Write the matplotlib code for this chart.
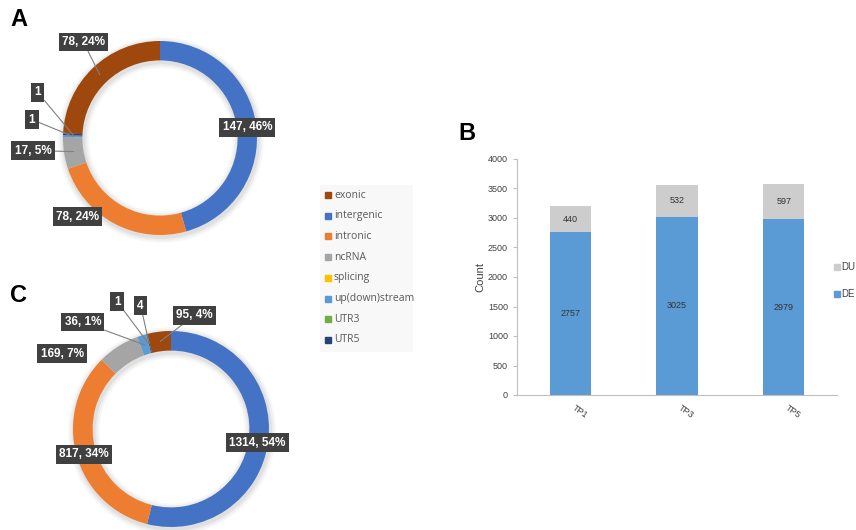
import numpy as np
import matplotlib.pyplot as plt

## genomic annotation categories (same order in both donuts and the legend)
categories = ["exonic", "intergenic", "intronic", "ncRNA", "splicing",
              "up(down)stream", "UTR3", "UTR5"]
colors = ["#9e480e", "#4472c4", "#ed7d31", "#a5a5a5", "#ffc000",
          "#5b9bd5", "#70ad47", "#264478"]

counts_a = [78, 147, 78, 17, 0, 1, 0, 1]
counts_c = [95, 1314, 817, 169, 0, 36, 1, 4]

## stacked bars
timepoints = ["TP1", "TP3", "TP5"]
de_counts = [2757, 3025, 2979]
du_counts = [440, 532, 597]

W, H = 856, 530
fig = plt.figure(figsize=(W / 100, H / 100), dpi=100)
plt.rcParams["font.family"] = ["Liberation Sans", "DejaVu Sans"]


def px_axes(x0, y0, w, h):
    # axes placed in pixel units, measured from the top-left corner
    return fig.add_axes([x0 / W, 1 - (y0 + h) / H, w / W, h / H])


def donut(box, cx, cy, R, counts, label_pos):
    x0, y0, w, h = box
    ax = px_axes(x0, y0, w, h)
    total = sum(counts)
    start = 90 + 360 * counts[0] / total
    # faint halo behind the ring
    for k, a in [(1.06, 0.03), (1.04, 0.04), (1.02, 0.05)]:
        ax.add_patch(plt.matplotlib.patches.Wedge((0.01, -0.02), k, 0, 360,
                                                  width=0.2 + 2 * (k - 1), color="#000000",
                                                  alpha=a, lw=0))
    wedges, _ = ax.pie(counts, colors=colors, radius=1, startangle=start,
                       counterclock=False, wedgeprops=dict(width=0.2, linewidth=0))
    ax.set_xlim((x0 - cx) / R, (x0 + w - cx) / R)
    ax.set_ylim((cy - y0 - h) / R, (cy - y0) / R)
    ax.axis("off")
    for i, (wd, v) in enumerate(zip(wedges, counts)):
        if v == 0:
            continue
        pct = 100 * v / total
        txt = f"{v}, {round(pct)}%" if pct >= 0.5 else f"{v}"
        mid = np.deg2rad((wd.theta1 + wd.theta2) / 2)
        target = (0.9 * np.cos(mid), 0.9 * np.sin(mid))
        tx, ty, leader = label_pos[i]
        ax.annotate(txt, xy=target, xytext=(tx, ty), ha="center", va="center",
                    color="white", fontsize=8.5, fontweight="bold",
                    bbox=dict(boxstyle="square,pad=0.28", fc="#404040", ec="none"),
                    arrowprops=dict(arrowstyle="-", color="#808080", lw=0.8,
                                    shrinkA=0, shrinkB=0) if leader else None)
    return ax


pos_a = {0: (-0.79, 0.99, True), 1: (0.90, 0.11, False), 2: (-0.85, -0.81, False),
         3: (-1.31, -0.13, True), 5: (-1.32, 0.19, True), 7: (-1.26, 0.47, True)}
pos_c = {0: (0.24, 1.16, True), 1: (0.88, -0.14, False), 2: (-0.89, -0.26, False),
         3: (-1.11, 0.77, False), 5: (-0.90, 1.09, True), 6: (-0.55, 1.30, True),
         7: (-0.31, 1.26, True)}

donut((0, 0, 300, 265), 160, 138, 97, counts_a, pos_a)
donut((0, 268, 300, 262), 171, 429, 98, counts_c, pos_c)

## shared legend for the donuts
lax = px_axes(320, 185, 93, 167)
lax.set_xlim(0, 93)
lax.set_ylim(167, 0)
lax.set_xticks([])
lax.set_yticks([])
lax.set_facecolor("#f8f8f8")
for s in lax.spines.values():
    s.set_visible(False)
for i, (name, c) in enumerate(zip(categories, colors)):
    y = 10 + i * 20.7
    lax.add_patch(plt.Rectangle((5, y - 3), 6, 6, color=c))
    lax.text(14, y, name, va="center", ha="left", fontsize=7.5, color="#595959",
             family=["Open Sans", "DejaVu Sans"])

## panel B
bax = px_axes(517, 159, 320, 236)
x = np.arange(len(timepoints))
bw = 0.39
bax.bar(x, de_counts, bw, color="#5b9bd5", label="DE")
bax.bar(x, du_counts, bw, bottom=de_counts, color="#cdcdcd", label="DU")
for i in range(len(x)):
    bax.text(x[i], de_counts[i] / 2, str(de_counts[i]), ha="center", va="center",
             fontsize=6.5, color="#333333")
    bax.text(x[i], de_counts[i] + du_counts[i] / 2, str(du_counts[i]), ha="center",
             va="center", fontsize=6.5, color="#333333")
bax.set_xlim(-0.5, 2.5)
bax.set_ylim(0, 4000)
bax.set_yticks(np.arange(0, 4001, 500))
bax.set_xticks(x)
bax.set_xticklabels(timepoints, rotation=-35, ha="left", fontsize=6.5, color="#404040")
bax.tick_params(axis="y", labelsize=6.5, labelcolor="#404040", length=3, color="#bfbfbf")
bax.tick_params(axis="x", length=0, pad=6)
bax.set_ylabel("Count", fontsize=8, color="#404040", labelpad=2)
for s in ["top", "right"]:
    bax.spines[s].set_visible(False)
for s in ["left", "bottom"]:
    bax.spines[s].set_color("#bfbfbf")
    bax.spines[s].set_linewidth(0.8)

# legend squares for the bars at the right edge
for lab, c, py in [("DU", "#cdcdcd", 267), ("DE", "#5b9bd5", 294)]:
    fig.patches.append(plt.Rectangle((834 / W, 1 - (py + 3) / H), 6 / W, 6 / H,
                                     color=c, transform=fig.transFigure))
    fig.text(841 / W, 1 - py / H, lab, fontsize=7, color="#404040", va="center")

## panel letters
fig.text(10 / W, 1 - 20 / H, "A", fontsize=17, fontweight="bold", va="center")
fig.text(458 / W, 1 - 134 / H, "B", fontsize=17, fontweight="bold", va="center")
fig.text(10 / W, 1 - 296 / H, "C", fontsize=17, fontweight="bold", va="center")

fig.savefig("out.png", dpi=100)
